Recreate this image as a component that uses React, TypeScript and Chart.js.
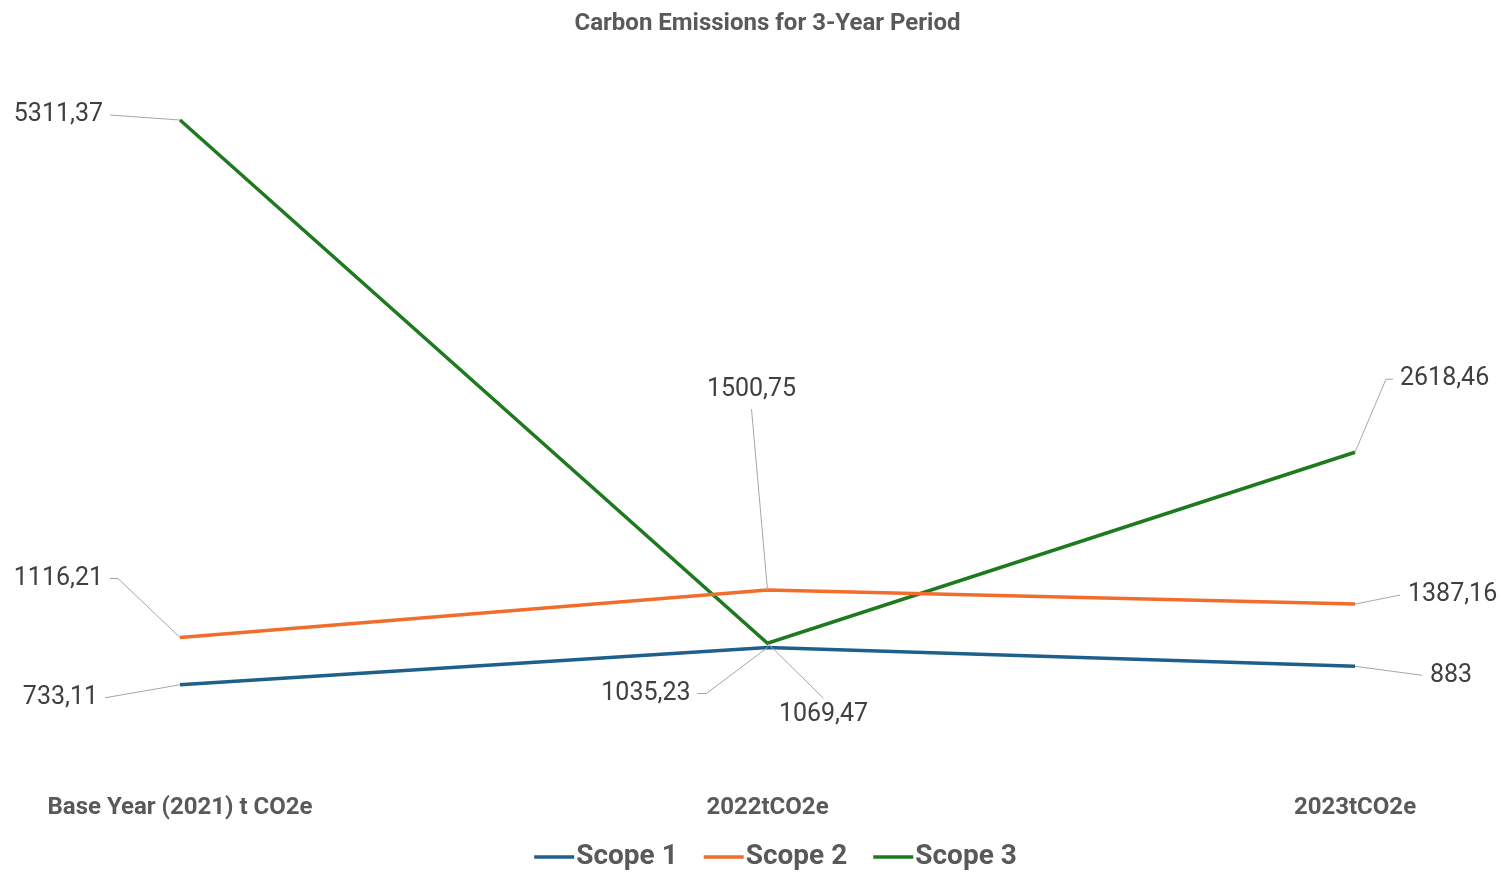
import React, { useEffect, useRef } from "react";
import { Chart, registerables } from "chart.js";

Chart.register(...registerables);

const categories = ["Base Year (2021) t CO2e", "2022tCO2e", "2023tCO2e"];
const scope1 = [733.11, 1035.23, 883];
const scope2 = [1116.21, 1500.75, 1387.16];
const scope3 = [5311.37, 1069.47, 2618.46];
const seriesNames = ["Scope 1", "Scope 2", "Scope 3"];
const seriesColors = ["#1f5f8b", "#f26d2b", "#1e7a1e"];
const chartTitle = "Carbon Emissions for 3-Year Period";

// label placement relative to each point: [dx, dy, align, leader path points]
type LabelPos = { dx: number; dy: number; align: CanvasTextAlign; path: number[][] };
const labelPlacement: LabelPos[][] = [
  [
    { dx: -82, dy: 13, align: "right", path: [[-75, 13]] },
    { dx: -77, dy: 46, align: "right", path: [[-61, 46], [-70, 46]] },
    { dx: 75, dy: 9, align: "left", path: [[67, 9]] },
  ],
  [
    { dx: -77, dy: -59, align: "right", path: [[-62, -59], [-70, -59]] },
    { dx: -16, dy: -200, align: "center", path: [[-16, -181]] },
    { dx: 53, dy: -9, align: "left", path: [[45, -9]] },
  ],
  [
    { dx: -77, dy: -5, align: "right", path: [[-70, -5]] },
    { dx: 56, dy: 71, align: "center", path: [[56, 55]] },
    { dx: 45, dy: -73, align: "left", path: [[31, -73], [38, -73]] },
  ],
];

const fmt = (v: number) => String(v).replace(".", ",");

const labelsPlugin = {
  id: "leaderLabels",
  afterDatasetsDraw(chart: any) {
    const ctx = chart.ctx as CanvasRenderingContext2D;
    ctx.save();
    chart.data.datasets.forEach((ds: any, di: number) => {
      const meta = chart.getDatasetMeta(di);
      meta.data.forEach((pt: any, i: number) => {
        const p = labelPlacement[di][i];
        const x = pt.x;
        const y = pt.y;
        ctx.strokeStyle = "#a6a6a6";
        ctx.lineWidth = 1;
        ctx.beginPath();
        ctx.moveTo(x, y);
        p.path.forEach(([px, py]) => ctx.lineTo(x + px, y + py));
        ctx.stroke();
        ctx.fillStyle = "#404040";
        ctx.font = "25px Roboto";
        ctx.textAlign = p.align;
        ctx.textBaseline = "middle";
        ctx.fillText(fmt(ds.data[i]), x + p.dx, y + p.dy);
      });
    });
    ctx.restore();
  },
};

const legendPlugin = {
  id: "customLegend",
  afterDraw(chart: any) {
    const ctx = chart.ctx as CanvasRenderingContext2D;
    const area = chart.chartArea;
    ctx.save();
    ctx.font = "bold 28px Roboto";
    const lineW = 40;
    const gap = 2;
    const spacing = 26;
    const items = chart.data.datasets.map((ds: any) => ({
      label: ds.label,
      color: ds.borderColor,
      w: lineW + gap + ctx.measureText(ds.label).width,
    }));
    const total = items.reduce((s: number, it: any) => s + it.w, 0) + spacing * (items.length - 1);
    let x = (area.left + area.right) / 2 + 8 - total / 2;
    const y = 857;
    items.forEach((it: any) => {
      ctx.strokeStyle = it.color;
      ctx.lineWidth = 3.5;
      ctx.beginPath();
      ctx.moveTo(x, y);
      ctx.lineTo(x + lineW, y);
      ctx.stroke();
      ctx.fillStyle = "#595959";
      ctx.textAlign = "left";
      ctx.textBaseline = "middle";
      ctx.fillText(it.label, x + lineW + gap, y);
      x += it.w + spacing;
    });
    ctx.restore();
  },
};

export default function App() {
  const ref = useRef<HTMLCanvasElement | null>(null);
  useEffect(() => {
    document.body.style.margin = "0";
    const series = [scope1, scope2, scope3];
    const chart = new Chart(ref.current as HTMLCanvasElement, {
      type: "line",
      data: {
        labels: categories,
        datasets: series.map((d, i) => ({
          label: seriesNames[i],
          data: d,
          borderColor: seriesColors[i],
          backgroundColor: seriesColors[i],
          borderWidth: 3.5,
          pointRadius: 0,
          tension: 0,
        })),
      },
      options: {
        responsive: false,
        animation: false,
        layout: { padding: { left: 180, right: 146, top: 0, bottom: 34 } },
        plugins: {
          legend: { display: false },
          tooltip: { enabled: false },
          title: {
            display: true,
            text: chartTitle,
            color: "#595959",
            font: { family: "Roboto", size: 24, weight: "bold" },
            padding: { top: 10, bottom: 0 },
          },
        },
        scales: {
          x: {
            offset: false,
            grid: { display: false, drawTicks: false },
            border: { display: false },
            ticks: {
              color: "#595959",
              padding: 18,
              maxRotation: 0,
              autoSkip: false,
              font: { family: "Roboto", size: 24, weight: "bold" },
            },
          },
          y: {
            display: false,
            min: 0,
            max: 5970,
          },
        },
      },
      plugins: [labelsPlugin, legendPlugin],
    });
    return () => chart.destroy();
  }, []);
  return (
    <div style={{ width: 1501, height: 874, background: "#fff" }}>
      <canvas ref={ref} width={1501} height={874} />
    </div>
  );
}
